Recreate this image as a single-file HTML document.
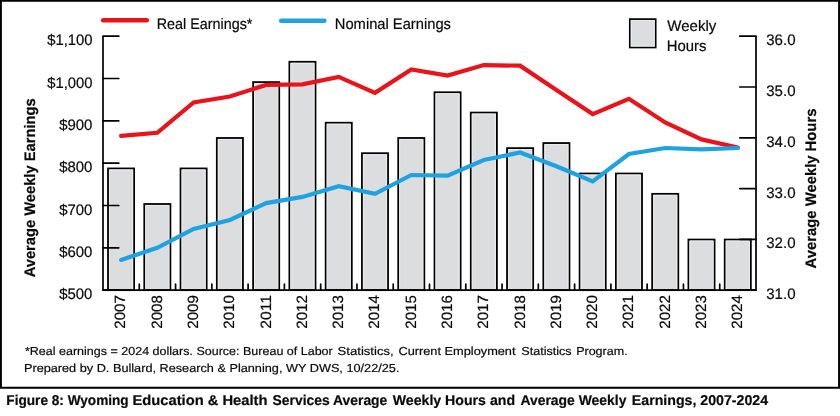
<!DOCTYPE html>
<html><head><meta charset="utf-8"><title>Figure 8</title>
<style>html,body{margin:0;padding:0;background:#fff}svg{display:block;will-change:transform}text{text-rendering:geometricPrecision;font-family:"Liberation Sans",sans-serif;fill:#0a0a0a;stroke:#0a0a0a;stroke-width:0.2px}</style></head>
<body>
<svg width="840" height="416" viewBox="0 0 840 416">
<rect x="0" y="0" width="840" height="416" fill="#fff"/>
<path d="M0 0H840V388.7H0Z M1.9 1.7V386.8H838.1V1.7Z" fill="#000" fill-rule="evenodd"/>
<rect x="108.01" y="168.45" width="26.10" height="121.70" fill="#dcddde" stroke="#000" stroke-width="1.8"/>
<path d="M109.51 289.15 V169.95 H132.61 V289.15" fill="none" stroke="#ececec" stroke-width="1"/>
<rect x="144.29" y="204.01" width="26.10" height="86.14" fill="#dcddde" stroke="#000" stroke-width="1.8"/>
<path d="M145.79 289.15 V205.51 H168.89 V289.15" fill="none" stroke="#ececec" stroke-width="1"/>
<rect x="180.56" y="168.45" width="26.10" height="121.70" fill="#dcddde" stroke="#000" stroke-width="1.8"/>
<path d="M182.06 289.15 V169.95 H205.16 V289.15" fill="none" stroke="#ececec" stroke-width="1"/>
<rect x="216.84" y="137.98" width="26.10" height="152.17" fill="#dcddde" stroke="#000" stroke-width="1.8"/>
<path d="M218.34 289.15 V139.48 H241.44 V289.15" fill="none" stroke="#ececec" stroke-width="1"/>
<rect x="253.12" y="82.11" width="26.10" height="208.04" fill="#dcddde" stroke="#000" stroke-width="1.8"/>
<path d="M254.62 289.15 V83.61 H277.72 V289.15" fill="none" stroke="#ececec" stroke-width="1"/>
<rect x="289.40" y="61.80" width="26.10" height="228.35" fill="#dcddde" stroke="#000" stroke-width="1.8"/>
<path d="M290.90 289.15 V63.30 H314.00 V289.15" fill="none" stroke="#ececec" stroke-width="1"/>
<rect x="325.68" y="122.74" width="26.10" height="167.41" fill="#dcddde" stroke="#000" stroke-width="1.8"/>
<path d="M327.18 289.15 V124.24 H350.28 V289.15" fill="none" stroke="#ececec" stroke-width="1"/>
<rect x="361.95" y="153.22" width="26.10" height="136.93" fill="#dcddde" stroke="#000" stroke-width="1.8"/>
<path d="M363.45 289.15 V154.72 H386.55 V289.15" fill="none" stroke="#ececec" stroke-width="1"/>
<rect x="398.23" y="137.98" width="26.10" height="152.17" fill="#dcddde" stroke="#000" stroke-width="1.8"/>
<path d="M399.73 289.15 V139.48 H422.83 V289.15" fill="none" stroke="#ececec" stroke-width="1"/>
<rect x="434.51" y="92.27" width="26.10" height="197.88" fill="#dcddde" stroke="#000" stroke-width="1.8"/>
<path d="M436.01 289.15 V93.77 H459.11 V289.15" fill="none" stroke="#ececec" stroke-width="1"/>
<rect x="470.79" y="112.58" width="26.10" height="177.56" fill="#dcddde" stroke="#000" stroke-width="1.8"/>
<path d="M472.29 289.15 V114.08 H495.39 V289.15" fill="none" stroke="#ececec" stroke-width="1"/>
<rect x="507.06" y="148.14" width="26.10" height="142.01" fill="#dcddde" stroke="#000" stroke-width="1.8"/>
<path d="M508.56 289.15 V149.64 H531.66 V289.15" fill="none" stroke="#ececec" stroke-width="1"/>
<rect x="543.34" y="143.06" width="26.10" height="147.09" fill="#dcddde" stroke="#000" stroke-width="1.8"/>
<path d="M544.84 289.15 V144.56 H567.94 V289.15" fill="none" stroke="#ececec" stroke-width="1"/>
<rect x="579.62" y="173.53" width="26.10" height="116.62" fill="#dcddde" stroke="#000" stroke-width="1.8"/>
<path d="M581.12 289.15 V175.03 H604.22 V289.15" fill="none" stroke="#ececec" stroke-width="1"/>
<rect x="615.90" y="173.53" width="26.10" height="116.62" fill="#dcddde" stroke="#000" stroke-width="1.8"/>
<path d="M617.40 289.15 V175.03 H640.50 V289.15" fill="none" stroke="#ececec" stroke-width="1"/>
<rect x="652.18" y="193.85" width="26.10" height="96.30" fill="#dcddde" stroke="#000" stroke-width="1.8"/>
<path d="M653.68 289.15 V195.35 H676.78 V289.15" fill="none" stroke="#ececec" stroke-width="1"/>
<rect x="688.45" y="239.56" width="26.10" height="50.59" fill="#dcddde" stroke="#000" stroke-width="1.8"/>
<path d="M689.95 289.15 V241.06 H713.05 V289.15" fill="none" stroke="#ececec" stroke-width="1"/>
<rect x="724.73" y="239.56" width="26.10" height="50.59" fill="#dcddde" stroke="#000" stroke-width="1.8"/>
<path d="M726.23 289.15 V241.06 H749.33 V289.15" fill="none" stroke="#ececec" stroke-width="1"/>
<path d="M103.0 36.2 V290.15 H756.0 V36.2" fill="none" stroke="#000" stroke-width="1.7" stroke-linejoin="round"/>
<path d="M103.0 290.15 h15.8 M103.0 247.82 h15.8 M103.0 205.50 h15.8 M103.0 163.18 h15.8 M103.0 120.85 h15.8 M103.0 78.52 h15.8 M103.0 36.20 h15.8 M756.0 290.15 h-16.2 M756.0 239.36 h-16.2 M756.0 188.57 h-16.2 M756.0 137.78 h-16.2 M756.0 86.99 h-16.2 M756.0 36.20 h-16.2 M139.28 290.15 v-6.0 M175.56 290.15 v-6.0 M211.83 290.15 v-6.0 M248.11 290.15 v-6.0 M284.39 290.15 v-6.0 M320.67 290.15 v-6.0 M356.94 290.15 v-6.0 M393.22 290.15 v-6.0 M429.50 290.15 v-6.0 M465.78 290.15 v-6.0 M502.06 290.15 v-6.0 M538.33 290.15 v-6.0 M574.61 290.15 v-6.0 M610.89 290.15 v-6.0 M647.17 290.15 v-6.0 M683.44 290.15 v-6.0 M719.72 290.15 v-6.0" fill="none" stroke="#000" stroke-width="1.7" stroke-linecap="round"/>
<polyline points="121.1,135.9 157.3,132.8 193.6,102.4 229.9,96.5 266.2,84.9 302.4,84.4 338.7,76.9 375.0,92.8 411.3,69.4 447.6,75.5 483.8,65.1 520.1,65.7 556.4,90.0 592.7,114.1 628.9,98.8 665.2,122.5 701.5,139.4 737.8,147.5" fill="none" stroke="#e8141c" stroke-width="4.2" stroke-linecap="round" stroke-linejoin="miter" stroke-miterlimit="10"/>
<polyline points="121.1,259.9 157.3,247.8 193.6,229.0 229.9,220.0 266.2,203.1 302.4,196.9 338.7,186.2 375.0,193.8 411.3,175.0 447.6,175.6 483.8,160.0 520.1,152.5 556.4,166.2 592.7,181.4 628.9,154.0 665.2,148.0 701.5,149.4 737.8,148.0" fill="none" stroke="#1fa3e0" stroke-width="4.2" stroke-linecap="round" stroke-linejoin="miter" stroke-miterlimit="10"/>
<line x1="103.2" y1="20.2" x2="146.8" y2="20.2" stroke="#e8141c" stroke-width="4.6" stroke-linecap="round"/>
<line x1="281.2" y1="20.7" x2="324.3" y2="20.7" stroke="#1fa3e0" stroke-width="4.6" stroke-linecap="round"/>
<rect x="629.8" y="19.1" width="25.9" height="28.4" fill="#dcddde" stroke="#000" stroke-width="1.7"/>
<rect x="631.3" y="20.6" width="22.9" height="25.4" fill="none" stroke="#ececec" stroke-width="1"/>
<text x="156.73" y="28.8" font-size="15.2" textLength="95.73" lengthAdjust="spacingAndGlyphs">Real Earnings*</text>
<text x="334.82" y="29.4" font-size="15.2" textLength="116.14" lengthAdjust="spacingAndGlyphs">Nominal Earnings</text>
<text x="667.24" y="30.7" font-size="15.2" textLength="49.02" lengthAdjust="spacingAndGlyphs">Weekly</text>
<text x="666.77" y="51.2" font-size="15.2" textLength="39.66" lengthAdjust="spacingAndGlyphs">Hours</text>
<text x="59.22" y="299.20" font-size="15.2" textLength="33.21" lengthAdjust="spacingAndGlyphs">$500</text>
<text x="59.22" y="256.88" font-size="15.2" textLength="33.21" lengthAdjust="spacingAndGlyphs">$600</text>
<text x="59.22" y="214.55" font-size="15.2" textLength="33.21" lengthAdjust="spacingAndGlyphs">$700</text>
<text x="59.22" y="172.23" font-size="15.2" textLength="33.21" lengthAdjust="spacingAndGlyphs">$800</text>
<text x="59.22" y="129.90" font-size="15.2" textLength="33.21" lengthAdjust="spacingAndGlyphs">$900</text>
<text x="47.19" y="87.57" font-size="15.2" textLength="45.31" lengthAdjust="spacingAndGlyphs">$1,000</text>
<text x="47.19" y="45.25" font-size="15.2" textLength="45.31" lengthAdjust="spacingAndGlyphs">$1,100</text>
<text x="766.21" y="299.15" font-size="15.2" textLength="29.3" lengthAdjust="spacingAndGlyphs">31.0</text>
<text x="766.21" y="248.36" font-size="15.2" textLength="29.3" lengthAdjust="spacingAndGlyphs">32.0</text>
<text x="766.21" y="197.57" font-size="15.2" textLength="29.3" lengthAdjust="spacingAndGlyphs">33.0</text>
<text x="766.21" y="146.78" font-size="15.2" textLength="29.3" lengthAdjust="spacingAndGlyphs">34.0</text>
<text x="766.21" y="95.99" font-size="15.2" textLength="29.3" lengthAdjust="spacingAndGlyphs">35.0</text>
<text x="766.21" y="45.20" font-size="15.2" textLength="29.3" lengthAdjust="spacingAndGlyphs">36.0</text>
<text font-size="14.9" textLength="33.62" lengthAdjust="spacingAndGlyphs" transform="translate(125.46 328.72) rotate(-90)">2007</text>
<text font-size="14.9" textLength="33.62" lengthAdjust="spacingAndGlyphs" transform="translate(161.74 328.72) rotate(-90)">2008</text>
<text font-size="14.9" textLength="33.62" lengthAdjust="spacingAndGlyphs" transform="translate(198.01 328.72) rotate(-90)">2009</text>
<text font-size="14.9" textLength="33.62" lengthAdjust="spacingAndGlyphs" transform="translate(234.29 328.72) rotate(-90)">2010</text>
<text font-size="14.9" textLength="33.62" lengthAdjust="spacingAndGlyphs" transform="translate(270.57 328.72) rotate(-90)">2011</text>
<text font-size="14.9" textLength="33.62" lengthAdjust="spacingAndGlyphs" transform="translate(306.85 328.72) rotate(-90)">2012</text>
<text font-size="14.9" textLength="33.62" lengthAdjust="spacingAndGlyphs" transform="translate(343.13 328.72) rotate(-90)">2013</text>
<text font-size="14.9" textLength="33.62" lengthAdjust="spacingAndGlyphs" transform="translate(379.40 328.72) rotate(-90)">2014</text>
<text font-size="14.9" textLength="33.62" lengthAdjust="spacingAndGlyphs" transform="translate(415.68 328.72) rotate(-90)">2015</text>
<text font-size="14.9" textLength="33.62" lengthAdjust="spacingAndGlyphs" transform="translate(451.96 328.72) rotate(-90)">2016</text>
<text font-size="14.9" textLength="33.62" lengthAdjust="spacingAndGlyphs" transform="translate(488.24 328.72) rotate(-90)">2017</text>
<text font-size="14.9" textLength="33.62" lengthAdjust="spacingAndGlyphs" transform="translate(524.51 328.72) rotate(-90)">2018</text>
<text font-size="14.9" textLength="33.62" lengthAdjust="spacingAndGlyphs" transform="translate(560.79 328.72) rotate(-90)">2019</text>
<text font-size="14.9" textLength="33.62" lengthAdjust="spacingAndGlyphs" transform="translate(597.07 328.72) rotate(-90)">2020</text>
<text font-size="14.9" textLength="33.62" lengthAdjust="spacingAndGlyphs" transform="translate(633.35 328.72) rotate(-90)">2021</text>
<text font-size="14.9" textLength="33.62" lengthAdjust="spacingAndGlyphs" transform="translate(669.63 328.72) rotate(-90)">2022</text>
<text font-size="14.9" textLength="33.62" lengthAdjust="spacingAndGlyphs" transform="translate(705.90 328.72) rotate(-90)">2023</text>
<text font-size="14.9" textLength="33.62" lengthAdjust="spacingAndGlyphs" transform="translate(742.18 328.72) rotate(-90)">2024</text>
<text font-size="15.2" font-weight="bold" textLength="178.99" lengthAdjust="spacingAndGlyphs" transform="translate(34.9 277.37) rotate(-90)">Average Weekly Earnings</text>
<text font-size="15.2" font-weight="bold" textLength="159.84" lengthAdjust="spacingAndGlyphs" transform="translate(816.3 268.40) rotate(-90)">Average Weekly Hours</text>
<text x="24.91" y="355.4" font-size="11.6" textLength="307.85" lengthAdjust="spacingAndGlyphs">*Real earnings = 2024 dollars. Source: Bureau of Labor</text>
<text x="337.6" y="355.4" font-size="11.6" textLength="56.03" lengthAdjust="spacingAndGlyphs">Statistics,</text>
<text x="398.41" y="355.4" font-size="11.6" textLength="117.13" lengthAdjust="spacingAndGlyphs">Current Employment</text>
<text x="521.27" y="355.4" font-size="11.6" textLength="50.34" lengthAdjust="spacingAndGlyphs">Statistics</text>
<text x="576.15" y="355.4" font-size="11.6" textLength="51.48" lengthAdjust="spacingAndGlyphs">Program.</text>
<text x="23.93" y="372.4" font-size="11.6" textLength="375.5" lengthAdjust="spacingAndGlyphs">Prepared by D. Bullard, Research &amp; Planning, WY DWS, 10/22/25.</text>
<text x="6.37" y="405.0" font-size="14.2" font-weight="bold" textLength="122.33" lengthAdjust="spacingAndGlyphs">Figure 8: Wyoming</text>
<text x="132.41" y="405.0" font-size="14.2" font-weight="bold" textLength="135.13" lengthAdjust="spacingAndGlyphs">Education &amp; Health</text>
<text x="272.62" y="405.0" font-size="14.2" font-weight="bold" textLength="114.68" lengthAdjust="spacingAndGlyphs">Services Average</text>
<text x="392.69" y="405.0" font-size="14.2" font-weight="bold" textLength="122.38" lengthAdjust="spacingAndGlyphs">Weekly Hours and</text>
<text x="520.42" y="405.0" font-size="14.2" font-weight="bold" textLength="106.0" lengthAdjust="spacingAndGlyphs">Average Weekly</text>
<text x="631.82" y="405.0" font-size="14.2" font-weight="bold" textLength="136.31" lengthAdjust="spacingAndGlyphs">Earnings, 2007-2024</text>
</svg></body></html>
